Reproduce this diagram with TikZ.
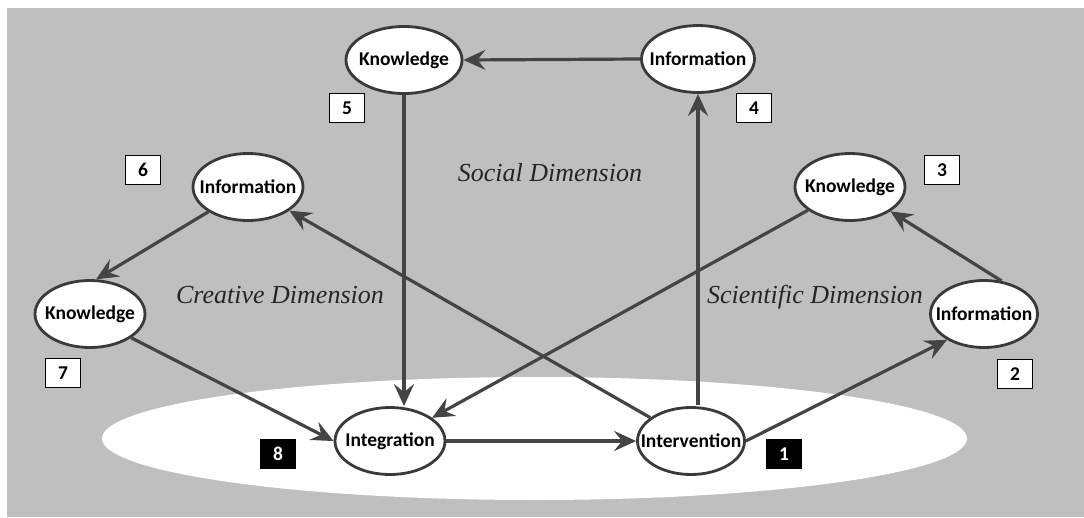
\documentclass[tikz,border=0pt]{standalone}
\usepackage{fontspec}
\setmainfont{Liberation Serif}
\newfontfamily\labelfont{Carlito}
\usetikzlibrary{shapes.geometric,arrows.meta}
\definecolor{bggray}{HTML}{BFBFBF}
\definecolor{linegray}{HTML}{444444}
\definecolor{rimgray}{HTML}{3A3A3A}
\begin{document}
\begin{tikzpicture}[x=1pt,y=-1pt,
  concept/.style={ellipse,draw=rimgray,line width=2.8pt,fill=white,
    inner xsep=-14pt,inner ysep=0pt,
    minimum width=110pt,minimum height=67pt,
    font=\labelfont\bfseries\fontsize{19.5}{21}\selectfont},
  numbox/.style={rectangle,draw=black,line width=1.8pt,fill=white,inner sep=0pt,
    minimum width=35pt,minimum height=29pt,
    font=\labelfont\bfseries\fontsize{19.5}{21}\selectfont},
  darkbox/.style={numbox,fill=black,text=white},
  dimension/.style={anchor=base,font=\itshape\fontsize{26}{30}\selectfont,text=black!85},
  flow/.style={draw=linegray,line width=3.2pt,
    -{Stealth[length=22pt,width=20pt,inset=8pt]}}]
\useasboundingbox (0,0) rectangle (1084,517);

% background panel and the ground ellipse
\fill[white] (0,0) rectangle (1084,517);
\fill[bggray] (7,8) rectangle (1084,517);
\fill[white] (534.5,438.5) ellipse [x radius=432.5pt, y radius=61.5pt];

% dimension captions
\node[dimension] (social) at (550,181) {Social Dimension};
\node[dimension] (creative) at (280,303) {Creative Dimension};
\node[dimension] (scientific) at (815,303) {Scientific Dimension};

% concepts
\node[concept,minimum width=116pt] (Kt) at (404,60) {Knowledge};
\node[concept,minimum width=113pt] (It) at (698,59) {Information};
\node[concept] (Il) at (248,187) {Information};
\node[concept] (Kr) at (850,187) {Knowledge};
\node[concept] (Kl) at (90,314) {Knowledge};
\node[concept,minimum width=107pt] (Ir) at (984,314) {Information};
\node[concept] (Ig) at (390,441) {Integration};
\node[concept,minimum width=107pt] (Iv) at (691,441) {Intervention};

% step numbers
\node[darkbox] (n1) at (784,454) {1};
\node[numbox] (n2) at (1015,374) {2};
\node[numbox] (n3) at (942,170) {3};
\node[numbox] (n4) at (754,108) {4};
\node[numbox] (n5) at (347,108) {5};
\node[numbox] (n6) at (143,170) {6};
\node[numbox] (n7) at (63,373) {7};
\node[darkbox] (n8) at (278,454) {8};

% flows
\draw[flow] (Ig.east) -- (Iv.west);
\draw[flow] (Iv.east) -- (Ir.215);
\draw[flow] (Ir.62) -- (Kr.-31);
\draw[flow] (Kr) -- (Ig);
\draw[flow] ([yshift=1pt]It.south |- Iv.north) -- (It.south);
\draw[flow] (It.west) -- (Kt.east);
\draw[flow] (Kt.south) -- (Kt.south |- Ig.north);
\draw[flow] (Iv) -- (Il);
\draw[flow] (Il.212) -- (Kl.80);
\draw[flow] (Kl.-30) -- (Ig.west);
\end{tikzpicture}
\end{document}
